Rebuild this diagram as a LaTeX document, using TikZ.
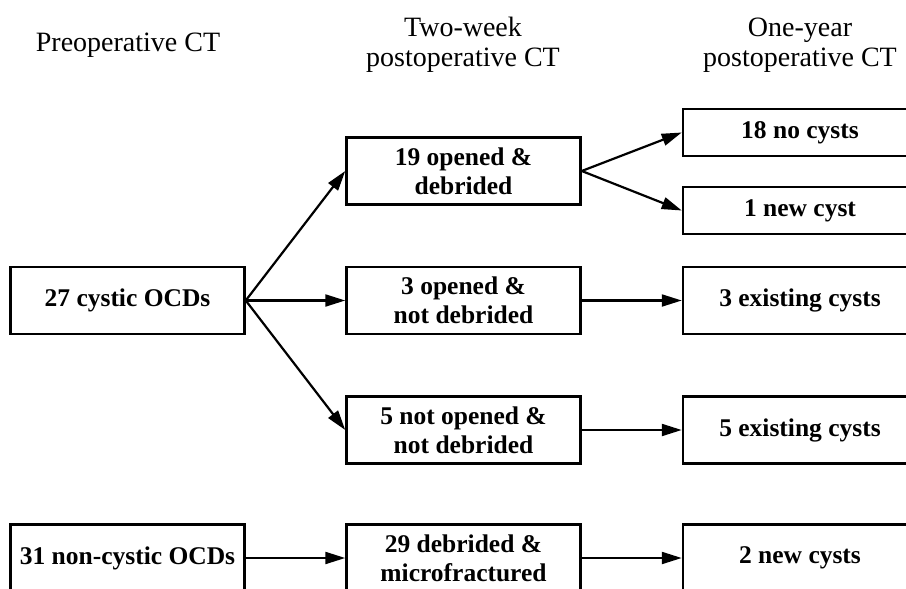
\documentclass[tikz,border=0pt]{standalone}
\usepackage{fontspec}
\setmainfont{Liberation Serif}
\usetikzlibrary{arrows.meta}

\begin{document}
\begin{tikzpicture}[x=1pt,y=1pt,
  box/.style={draw,line width=2.5pt,minimum width=234pt,minimum height=67pt,
              inner sep=0pt,align=center,
              font=\fontsize{25.5}{29}\selectfont\bfseries},
  sbox/.style={box,minimum height=47pt},
  hd/.style={align=center,font=\fontsize{28}{30}\selectfont},
  a/.style={-{Triangle[length=20pt,width=12pt]},line width=2.2pt}]
  \useasboundingbox (0,0) rectangle (906,-589);
  \clip (0,0) rectangle (906,-589);
  % column headers
  \node[hd] (hpre) at (128,-45) {Preoperative CT};
  \node[hd] (htwo) at (463,-45) {Two-week\\postoperative CT};
  \node[hd] (hone) at (800,-45) {One-year\\postoperative CT};
  % preoperative
  \node[box] (cyst)  at (127.5,-300.5) {27 cystic OCDs};
  \node[box] (ncyst) at (127.5,-558)   {31 non-cystic OCDs};
  % two-week
  \node[box] (opdeb)   at (463.5,-171)   {19 opened \&\\debrided};
  \node[box] (opnod)   at (463.5,-300.5) {3 opened \&\\not debrided};
  \node[box] (nopnod)  at (463.5,-430)   {5 not opened \&\\not debrided};
  \node[box] (debmic)  at (463.5,-558)   {29 debrided \&\\microfractured};
  % one-year
  \node[sbox] (nocy)  at (800,-132.5) {18 no cysts};
  \node[sbox] (newcy) at (800,-210.5) {1 new cyst};
  \node[box]  (ex3)   at (800,-300.5) {3 existing cysts};
  \node[box]  (ex5)   at (800,-430)   {5 existing cysts};
  \node[box]  (new2)  at (800,-558)   {2 new cysts};
  % arrows
  \draw[a] (cyst.east)--(opdeb.west);
  \draw[a] (cyst.east)--(opnod.west);
  \draw[a] (cyst.east)--(nopnod.west);
  \draw[a] (ncyst)--(debmic);
  \draw[a] (opdeb.east)--(nocy.west);
  \draw[a] (opdeb.east)--(newcy.west);
  \draw[a] (opnod)--(ex3);
  \draw[a] (nopnod)--(ex5);
  \draw[a] (debmic)--(new2);
\end{tikzpicture}
\end{document}
